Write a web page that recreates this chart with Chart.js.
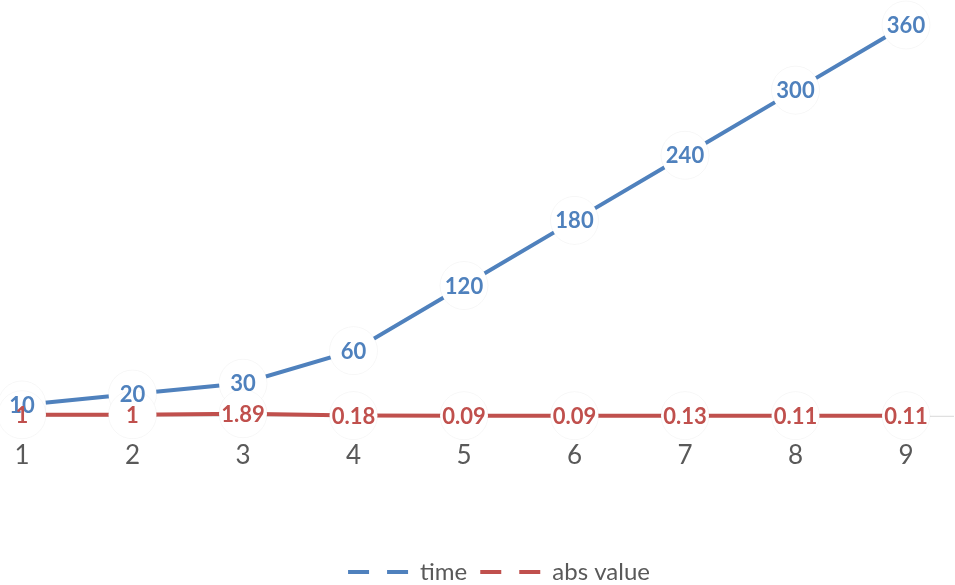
<!DOCTYPE html>
<html>
<head>
<meta charset="utf-8">
<script src="https://cdn.jsdelivr.net/npm/chart.js@4.4.0/dist/chart.umd.min.js"></script>
<style>
  html, body { margin: 0; padding: 0; background: #fff; }
  #wrap { width: 955px; height: 585px; }
</style>
</head>
<body>
<div id="wrap"><canvas id="lineChart" width="955" height="585"></canvas></div>
<script>
var categories = ['1', '2', '3', '4', '5', '6', '7', '8', '9'];
var timeValues = [10, 20, 30, 60, 120, 180, 240, 300, 360];
var absValues = [1, 1, 1.89, 0.18, 0.09, 0.09, 0.13, 0.11, 0.11];
var seriesNames = ['time', 'abs value'];
var seriesColors = ['#4F81BD', '#C0504D'];

// gray zero line under the series, white round badges with the values on top
var pointLabels = {
    id: 'pointLabels',
    afterLayout: function (chart) {
        // nudge the legend a bit lower and to the right
        var lg = chart.legend;
        lg.left += 35; lg.right += 35;
        lg.top += 9; lg.bottom += 9;
    },
    beforeDatasetsDraw: function (chart) {
        var ctx = chart.ctx;
        var y = chart.scales.y.getPixelForValue(0);
        ctx.save();
        ctx.strokeStyle = '#d9d9d9';
        ctx.lineWidth = 1;
        ctx.beginPath();
        ctx.moveTo(0, y + 0.5);
        ctx.lineTo(chart.width - 1, y + 0.5);
        ctx.stroke();
        ctx.restore();
    },
    afterDatasetsDraw: function (chart) {
        var ctx = chart.ctx;
        ctx.save();
        chart.data.datasets.forEach(function (ds, i) {
            chart.getDatasetMeta(i).data.forEach(function (pt) {
                ctx.beginPath();
                ctx.arc(pt.x, pt.y, 24, 0, Math.PI * 2);
                ctx.fillStyle = '#ffffff';
                ctx.fill();
                ctx.strokeStyle = 'rgba(0,0,0,0.03)';
                ctx.lineWidth = 1;
                ctx.stroke();
            });
        });
        ctx.font = 'bold 22px Lato';
        ctx.textAlign = 'center';
        ctx.textBaseline = 'middle';
        chart.data.datasets.forEach(function (ds, i) {
            ctx.fillStyle = ds.borderColor;
            chart.getDatasetMeta(i).data.forEach(function (pt, j) {
                ctx.fillText(String(ds.data[j]), pt.x, pt.y + 1);
            });
        });
        ctx.restore();
    }
};

var ctx = document.getElementById('lineChart').getContext('2d');
var chart = new Chart(ctx, {
    type: 'line',
    data: {
        labels: categories,
        datasets: [{
            label: seriesNames[0],
            data: timeValues,
            borderColor: seriesColors[0],
            backgroundColor: seriesColors[0],
            borderWidth: 4,
            pointRadius: 0,
            clip: false
        }, {
            label: seriesNames[1],
            data: absValues,
            borderColor: seriesColors[1],
            backgroundColor: seriesColors[1],
            borderWidth: 4,
            pointRadius: 0,
            clip: false
        }]
    },
    plugins: [pointLabels],
    options: {
        responsive: false,
        animation: false,
        devicePixelRatio: 1,
        layout: { padding: { left: 22, right: 49, top: 25, bottom: 0 } },
        scales: {
            x: {
                offset: false,
                grid: { display: false, drawTicks: false },
                border: { display: false },
                ticks: {
                    padding: 24,
                    color: '#595959',
                    font: { family: 'Lato', size: 26 },
                    maxRotation: 0
                },
                // blank room between the tick labels and the legend,
                // side margins come from layout.padding only
                afterFit: function (scale) {
                    scale.height += 43;
                    scale.paddingLeft = 0;
                    scale.paddingRight = 0;
                }
            },
            y: {
                display: false,
                min: 0,
                max: 360
            }
        },
        plugins: {
            tooltip: { enabled: false },
            legend: {
                position: 'bottom',
                labels: {
                    usePointStyle: true,
                    pointStyleWidth: 60,
                    boxHeight: 4,
                    padding: 13,
                    color: '#595959',
                    font: { family: 'Lato', size: 24 },
                    generateLabels: function (chart) {
                        var items = Chart.defaults.plugins.legend.labels.generateLabels(chart);
                        items.forEach(function (it) {
                            it.pointStyle = 'line';
                            it.lineDash = [21, 18];
                            it.lineWidth = 4;
                        });
                        return items;
                    }
                }
            }
        }
    }
});
</script>
</body>
</html>
